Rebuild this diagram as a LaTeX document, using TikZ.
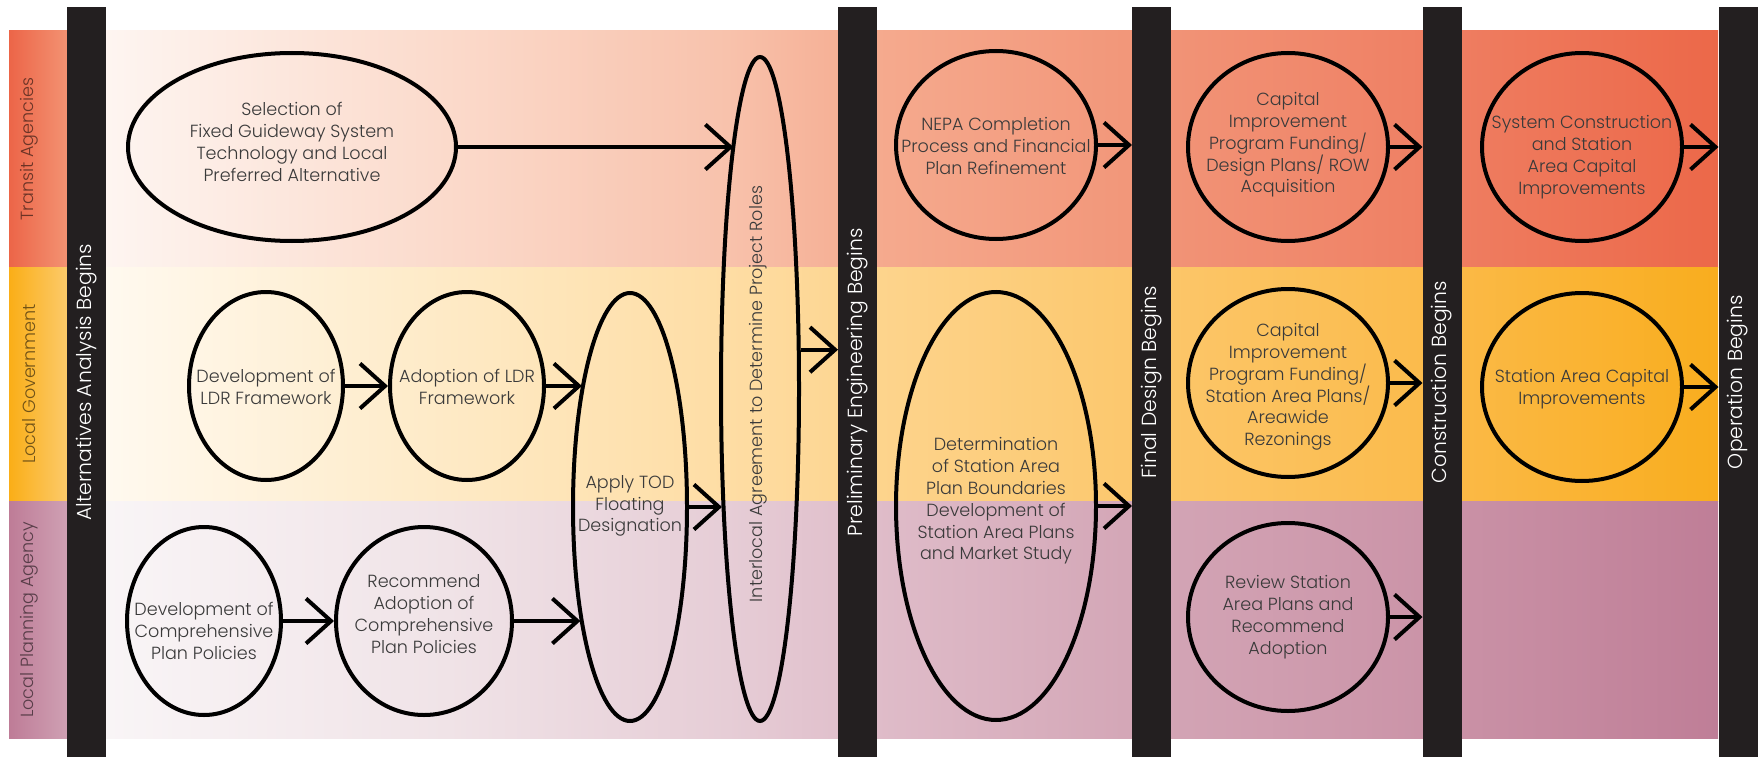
\documentclass[tikz,border=0pt]{standalone}
\usepackage{graphicx}
\usepackage{xcolor}
\usepackage{fontspec}
\IfFontExistsTF{Poppins Light}{\setmainfont{Poppins Light}}{\setmainfont{Poppins}}
\usepackage{tikz}
\usetikzlibrary{arrows.meta,shapes.geometric}

\definecolor{barblack}{HTML}{231F20}
\definecolor{inktext}{HTML}{3A3A3A}
% transit agencies lane
\definecolor{tr0}{HTML}{FEF8F5}
\definecolor{tr1}{HTML}{FBDACB}
\definecolor{tr2}{HTML}{F8C2AC}
\definecolor{tr3}{HTML}{F5AA8E}
\definecolor{tr4}{HTML}{F2977A}
\definecolor{tr5}{HTML}{EF8064}
\definecolor{tr6}{HTML}{EC6849}
\definecolor{trside0}{HTML}{EC6548}
\definecolor{trside1}{HTML}{F39272}
% local government lane
\definecolor{lg0}{HTML}{FFFBF4}
\definecolor{lg1}{HTML}{FEEAC6}
\definecolor{lg2}{HTML}{FEDDA4}
\definecolor{lg3}{HTML}{FDD48D}
\definecolor{lg4}{HTML}{FCC86E}
\definecolor{lg5}{HTML}{FBBB4C}
\definecolor{lg6}{HTML}{F9AD1E}
\definecolor{lgside0}{HTML}{FAAE17}
\definecolor{lgside1}{HTML}{FCCA6A}
% local planning agency lane
\definecolor{lp0}{HTML}{FAF7F8}
\definecolor{lp1}{HTML}{F0E3E7}
\definecolor{lp2}{HTML}{E6CDD6}
\definecolor{lp3}{HTML}{DFBCC9}
\definecolor{lp4}{HTML}{D4A7B7}
\definecolor{lp5}{HTML}{CB94A8}
\definecolor{lp6}{HTML}{BF7E97}
\definecolor{lpside0}{HTML}{BE7C97}
\definecolor{lpside1}{HTML}{CFA0B3}

\pgfdeclarehorizontalshading{trband}{100bp}{color(0bp)=(tr0); color(25bp)=(tr0); color(36.5bp)=(tr1); color(45bp)=(tr2); color(49.5bp)=(tr3); color(57bp)=(tr4); color(66bp)=(tr5); color(75bp)=(tr6); color(100bp)=(tr6)}
\pgfdeclarehorizontalshading{lgband}{100bp}{color(0bp)=(lg0); color(25bp)=(lg0); color(36.5bp)=(lg1); color(45bp)=(lg2); color(49.5bp)=(lg3); color(57bp)=(lg4); color(66bp)=(lg5); color(75bp)=(lg6); color(100bp)=(lg6)}
\pgfdeclarehorizontalshading{lpband}{100bp}{color(0bp)=(lp0); color(25bp)=(lp0); color(36.5bp)=(lp1); color(45bp)=(lp2); color(49.5bp)=(lp3); color(57bp)=(lp4); color(66bp)=(lp5); color(75bp)=(lp6); color(100bp)=(lp6)}

\tikzset{
    bar/.style={fill=barblack, draw=none, inner sep=0pt, outer sep=0pt, anchor=north,
        minimum width=0.78cm, minimum height=14.99cm, text=white,
        font=\fontsize{11.6}{14}\selectfont},
    lane/.style={text=black, text opacity=0.55, font=\fontsize{10}{12}\selectfont, rotate=90},
    stage/.style 2 args={ellipse, draw=black, line width=0.08cm, inner sep=0pt,
        minimum width=#1*0.02cm, minimum height=#2*0.02cm},
    txt/.style={text=inktext, align=center, inner sep=0pt, font=\fontsize{10}{12.4}\selectfont},
    flow/.style={draw=black, line width=0.08cm, -{Straight Barb[length=0.5cm, width=0.9cm]}}
}

\begin{document}
\begin{tikzpicture}[x=0.02cm, y=-0.02cm]
    \useasboundingbox (0,0) rectangle (1761,757);

    % Lanes
    \shade[shading=trband] (67,31) rectangle (1718,267);
    \shade[shading=lgband] (67,267) rectangle (1718,501);
    \shade[shading=lpband] (67,501) rectangle (1718,738);
    \shade[left color=trside0, right color=trside1] (9,31) rectangle (67,267);
    \shade[left color=lgside0, right color=lgside1] (9,267) rectangle (67,501);
    \shade[left color=lpside0, right color=lpside1] (9,501) rectangle (67,738);
    \node[lane] (transit) at (29,149) {Transit Agencies};
    \node[lane] (localgov) at (29,384) {Local Government};
    \node[lane] (planning) at (29,620) {Local Planning Agency};

    % Milestones
    \node[bar] (b1) at (86.5,7.5) {\rotatebox{90}{Alternatives Analysis Begins}};
    \node[bar] (b2) at (857.5,7.5) {\rotatebox{90}{Preliminary Engineering Begins}};
    \node[bar] (b3) at (1151.5,7.5) {\rotatebox{90}{Final Design Begins}};
    \node[bar] (b4) at (1442,7.5) {\rotatebox{90}{Construction Begins}};
    \node[bar] (b5) at (1738,7.5) {\rotatebox{90}{Operation Begins}};

    % Alternatives analysis
    \node[stage={328}{188}] (sel) at (292,147) {};
    \node[txt] (sel-t) at (292,142) {Selection of\\Fixed Guideway System\\Technology and Local\\Preferred Alternative};
    \node[stage={154}{188}] (ldr) at (266,386) {};
    \node[txt] (ldr-t) at (266,387) {Development of\\LDR Framework};
    \node[stage={154}{188}] (adopt) at (467,386) {};
    \node[txt] (adopt-t) at (467,387) {Adoption of LDR\\Framework};
    \node[stage={154}{188}] (comp) at (204,621) {};
    \node[txt] (comp-t) at (204,631) {Development of\\Comprehensive\\Plan Policies};
    \node[stage={176}{188}] (rec) at (424,621) {};
    \node[txt] (rec-t) at (424,614) {Recommend\\Adoption of\\Comprehensive\\Plan Policies};
    \node[stage={114}{428}] (apply) at (630,507) {};
    \node[txt] (apply-t) at (630,506) {Apply TOD\\Floating\\Designation};
    \node[stage={78}{664}] (inter) at (760,389) {};
    \node[txt, rotate=90] (inter-t) at (758,394) {Interlocal Agreement to Determine Project Roles};

    % Preliminary engineering
    \node[stage={200}{188}] (nepa) at (996,145) {};
    \node[txt] (nepa-t) at (996,146) {NEPA Completion\\Process and Financial\\Plan Refinement};
    \node[stage={200}{428}] (det) at (996,506) {};
    \node[txt] (det-t) at (996,501) {Determination\\of Station Area\\Plan Boundaries\\Development of\\Station Area Plans\\and Market Study};

    % Final design
    \node[stage={200}{188}] (cipt) at (1288,147) {};
    \node[txt] (cipt-t) at (1288,145) {Capital\\Improvement\\Program Funding/\\Design Plans/ ROW\\Acquisition};
    \node[stage={200}{188}] (cipl) at (1288,383) {};
    \node[txt] (cipl-t) at (1288,387) {Capital\\Improvement\\Program Funding/\\Station Area Plans/\\Areawide\\Rezonings};
    \node[stage={200}{188}] (review) at (1288,617) {};
    \node[txt] (review-t) at (1288,617) {Review Station\\Area Plans and\\Recommend\\Adoption};

    % Construction
    \node[stage={200}{188}] (sysc) at (1582,147) {};
    \node[txt] (sysc-t) at (1582,157) {System Construction\\and Station\\Area Capital\\Improvements};
    \node[stage={200}{188}] (sacap) at (1582,387) {};
    \node[txt] (sacap-t) at (1582,389) {Station Area Capital\\Improvements};

    % Connectors
    \draw[flow] (sel.east) -- (sel.east -| inter.96);
    \draw[flow] (inter.44) -- (inter.44 -| b2.west);
    \draw[flow] (ldr.east) -- (adopt.west);
    \draw[flow] (adopt.east) -- (adopt.east -| apply.111);
    \draw[flow] (comp.east) -- (rec.west);
    \draw[flow] (rec.east) -- (rec.east -| apply.247);
    \draw[flow] (apply.east) -- (apply.east -| inter.253);
    \draw[flow] (nepa.east) -- (nepa.east -| b3.west);
    \draw[flow] (det.east) -- (det.east -| b3.west);
    \draw[flow] (cipt.east) -- (cipt.east -| b4.west);
    \draw[flow] (cipl.east) -- (cipl.east -| b4.west);
    \draw[flow] (review.east) -- (review.east -| b4.west);
    \draw[flow] (sysc.east) -- (sysc.east -| b5.west);
    \draw[flow] (sacap.east) -- (sacap.east -| b5.west);
\end{tikzpicture}
\end{document}
